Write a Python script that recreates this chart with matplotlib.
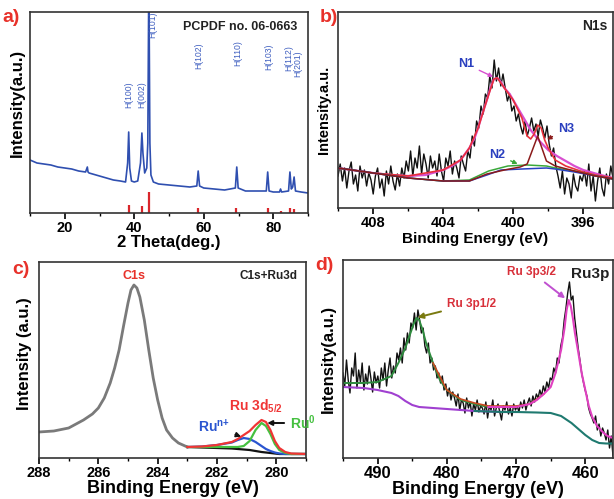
import matplotlib
matplotlib.use("Agg")
import matplotlib.pyplot as plt
import numpy as np
from matplotlib.ticker import MultipleLocator

plt.rcParams.update({
    "font.family": ["Liberation Sans", "DejaVu Sans"],
    "font.weight": "bold",
    "axes.labelweight": "bold",
    "axes.linewidth": 1.2,
    "axes.edgecolor": "#333333",
    "mathtext.fontset": "custom",
    "mathtext.bf": "Liberation Sans:bold",
    "mathtext.rm": "Liberation Sans",
})

# ---------------------------------------------------------------------------
# (a) XRD pattern
# ---------------------------------------------------------------------------
xrd_theta = [10, 12, 14, 16, 18, 20, 22, 24, 26, 26.5, 26.7, 27, 28, 30, 32, 34, 36,
             37.5, 38.1, 38.4, 38.7, 39.2, 40, 41, 41.8, 42.2, 42.5, 43, 43.6, 43.9,
             44.2, 44.5, 44.8, 45.5, 47, 50, 53, 56, 58.0, 58.4, 58.8, 60, 63, 66,
             69.1, 69.5, 69.9, 72, 75, 78.0, 78.4, 78.8, 80, 81.8, 82.1, 82.4, 84.4,
             84.8, 85.2, 85.6, 86.0, 86.4, 88, 90]
xrd_int = [53, 50, 49, 48, 46, 45, 44, 42, 41, 46, 41, 40, 39, 37, 35, 33, 32,
           31, 50, 81, 45, 32, 31, 32, 50, 80, 60, 40, 45, 70,
           240, 70, 38, 31, 29, 28, 27, 26, 27, 42, 27, 25, 24, 23,
           25, 46, 25, 22, 22, 22, 41, 22, 21, 21, 24, 21, 22,
           41, 24, 26, 36, 22, 21, 20]
ref_theta = [38.4, 42.1, 44.2, 58.4, 69.3, 78.4, 82.2, 84.8, 86.0]
ref_int = [8, 7, 21, 5, 5, 5, 2.5, 5, 4]
peak_labels = ["H(100)", "H(002)", "H(101)", "H(102)", "H(110)", "H(103)", "H(112)", "H(201)"]
peak_label_x = [38.3, 42.1, 45.2, 58.5, 69.8, 78.6, 84.5, 87.0]
peak_label_y = [118, 118, 188, 157, 160, 156, 155, 149]

# ---------------------------------------------------------------------------
# (b) N1s spectrum
# ---------------------------------------------------------------------------
n1s_raw = [30, 42, 25, 38, 18, 35, 44, 22, 31, 15, 40, 28, 36, 20, 33, 26,
           12, 30, 38, 18, 27, 10, 35, 22, 40, 25, 16, 32, 20, 38, 28, 45,
           35, 55, 30, 48, 38, 60, 32, 52, 42, 28, 50, 38,
           45, 30, 52, 35, 25, 48, 40, 55, 32, 45, 38, 28, 50, 42, 35, 55,
           48, 70, 60, 85, 78, 100, 92, 112,
           108, 130, 118, 146, 125, 138, 120, 132,
           118, 105, 112, 95, 100, 85, 92, 80,
           72, 85, 70, 78, 88, 75, 82, 70, 86, 78, 68, 80,
           62, 50, 58, 40,
           30, 18, 35, 12, 28, 22, 8, 32, 20, 15, 30, 25,
           35, 20, 42, 15, 30, 5, 25, 38, 18, 10, 32, 22, 40, 28]
n1s_e = np.linspace(410, 394.3, len(n1s_raw))

n1_e = [410, 409, 408, 407, 406, 405, 404, 403.5, 403, 402.5, 402.2, 402, 401.8, 401.5,
        401.3, 401.1, 400.9, 400.7, 400.5, 400.2, 400, 399.5, 399, 398.5, 398, 397.5,
        397, 396.5, 396, 395, 394.3]
n1_fit = [38, 35.5, 33, 31, 30, 31, 36, 40, 46, 58, 68, 78, 90, 106,
          118, 127, 128, 124, 118, 112, 106, 91, 76, 65, 56, 50,
          45, 40, 36, 31, 28]
tot_e = [410, 408, 406, 404, 403, 402.5, 402, 401.5, 401.1, 400.9, 400.5, 400, 399.5,
         399.2, 399.0, 398.8, 398.6, 398.4, 398.2, 398.0, 397.6, 397, 396, 395.3, 394.3]
tot_fit = [38, 33, 30, 36, 46, 58, 78, 106, 127, 128, 118, 106, 88,
           70, 67, 72, 81, 78, 66, 58, 46, 40, 34, 31, 28]
n3_e = [410, 408, 406, 404, 402.5, 401.5, 400.5, 399.6, 399.2, 398.9, 398.6, 398.3,
        398.1, 397.6, 396.5, 395.3, 394.3]
n3_fit = [38, 33, 28, 25, 25, 32, 36, 39, 42, 56, 70, 55, 45, 40, 35, 30, 27]
n2_e = [410, 408, 406, 404, 402.5, 401.4, 400.3, 399.2, 398.1, 397.6, 396.5, 395.3, 394.3]
n2_fit = [38, 33, 28, 25, 26, 35, 40, 41, 40, 38, 35, 30, 27]
bg_e = [410, 408, 406, 404, 402.5, 401.5, 400.7, 399.5, 398.1, 397.6, 396.5, 395.3, 394.3]
bg_fit = [38, 33, 28, 25, 25, 31, 36, 37, 38, 37, 34, 30, 27]

# ---------------------------------------------------------------------------
# (c) C1s + Ru3d
# ---------------------------------------------------------------------------
c1s_e = [288, 287.5, 287, 286.5, 286.2, 286, 285.8, 285.6, 285.45, 285.3, 285.15, 285.0,
         284.9, 284.8, 284.7, 284.6, 284.45, 284.3, 284.15, 284.0, 283.85, 283.7,
         283.5, 283.3, 283.0]
c1s_int = [26, 27, 30, 38, 44, 50, 60, 75, 90, 108, 132, 155,
           168, 173, 170, 161, 138, 108, 80, 58, 40, 28,
           20, 15, 11]
ru_e = [283, 282.5, 282, 281.5, 281.3, 281.1, 280.9, 280.7, 280.5, 280.35, 280.2,
        280.05, 279.9, 279.7, 279.5, 279]
ru_bg = [11, 10.5, 10, 9.5, 9, 8.5, 8, 7, 6, 5.5, 5, 4.5, 4, 4, 4, 4]
ru_np = [11, 11.5, 13, 15.5, 18, 20, 19, 16, 12, 9, 7, 5.5, 4.5, 4, 4, 4]
ru_0 = [11, 11, 11, 11, 11, 12, 17, 28, 35, 32, 24, 14, 8, 5, 4, 4]
ru_tot = [11, 11.5, 13, 16, 19, 23, 27, 33, 38, 36, 28, 17, 10, 6, 4.5, 4]

# ---------------------------------------------------------------------------
# (d) Ru3p spectrum
# ---------------------------------------------------------------------------
ru3p_raw = [85, 72, 98, 78, 65, 90, 82, 105, 70, 88, 76, 95, 68, 84, 74, 92, 80, 66, 86, 75,
            82, 70, 90, 78, 95, 72, 88, 100, 80, 92, 85, 105,
            98, 110, 95, 120, 108, 125, 115, 135,
            130, 145, 128, 148,
            138, 125, 130, 112,
            105, 115, 95, 100, 88, 92, 80, 85,
            75, 82, 68, 74, 62, 70, 58, 66,
            60, 52, 64, 48, 58, 55, 45, 60, 50, 56, 42, 54, 48, 58, 46, 52,
            50, 44, 56, 40, 52, 48, 58, 42, 50, 54, 46, 38, 52, 48, 56, 44, 50, 42, 54, 48,
            52, 46, 56, 50, 58, 48, 55, 60, 52, 62, 56, 64,
            60, 68, 62, 72, 66, 76, 70, 80,
            78, 90, 85, 100, 95, 112,
            120, 138, 150, 165,
            176, 158, 162, 140,
            125, 110, 98, 85, 76, 68,
            62, 50, 44, 40,
            35, 42, 28, 34, 22, 30, 25, 18,
            28, 10, 22, 2]
ru3p_e = np.linspace(495, 456, len(ru3p_raw))

p12_e = [495, 492, 490, 488, 487, 486, 485.3, 484.8, 484.4, 484.0, 483.5, 483, 482, 481,
         480, 478, 476, 474, 472, 470]
p12_fit = [75, 75, 76, 82, 95, 110, 124, 134, 140, 138, 128, 115, 95, 78,
           68, 58, 54, 51, 51, 51]
p32_e = [474, 470, 468, 467, 466, 465, 464.3, 463.5, 463, 462.7, 462.4, 462.1, 461.8,
         461.5, 461, 460.5, 460, 459.5, 459, 458.3, 457.5, 456.8, 456]
p32_fit = [51, 51, 54, 58, 64, 71, 85, 108, 130, 148, 158, 152, 140,
           125, 105, 84, 68, 52, 41, 32, 26, 22, 20]
tot3p_e = [482, 480, 478, 476, 474, 472, 470, 468, 466]
tot3p_fit = [95, 68, 59, 55, 52, 52, 52, 54, 64]
bg3p_e = [495, 492, 490, 488, 487, 486, 485, 484, 482, 480, 476, 472, 470]
bg3p_fit = [71, 70, 68, 65, 62, 57, 53, 51, 50, 49, 47, 46, 46]
tail3p_e = [476, 472, 470, 467, 465, 463.5, 462, 461, 460, 459, 458, 457, 456]
tail3p_fit = [47, 46, 46, 45.5, 45, 42, 35, 29, 23, 18, 15, 14.5, 14.5]


def style_axis(ax, major, minor, size=10.5):
    ax.xaxis.set_major_locator(MultipleLocator(major))
    ax.xaxis.set_minor_locator(MultipleLocator(minor))
    ax.tick_params(axis="x", which="major", direction="out", length=4, width=1.2,
                   labelsize=size, pad=2)
    ax.tick_params(axis="x", which="minor", direction="out", length=2.5, width=1.0)
    ax.set_yticks([])
    for lbl in ax.get_xticklabels():
        lbl.set_fontweight("bold")


def panel_label(fig, x, y, s):
    fig.text(x / 614, 1 - y / 499, s, color="#e8312a", fontsize=14,
             fontweight="bold", ha="left", va="center")


fig = plt.figure(figsize=(6.14, 4.99), dpi=100)


def add_ax(left, right, top, bottom):
    return fig.add_axes([left / 614, 1 - bottom / 499, (right - left) / 614, (bottom - top) / 499])


# ---- (a)
ax = add_ax(30, 308, 12, 213)
ax.plot(xrd_theta, xrd_int, color="#2f4fb0", lw=1.2)
ax.vlines(ref_theta, 0, ref_int, color="#d9262b", lw=1.6)
for s, xv, yv in zip(peak_labels, peak_label_x, peak_label_y):
    ax.text(xv, yv, s, rotation=90, color="#3f5fc0", fontsize=6.2,
            fontweight="normal", ha="center", va="center")
ax.text(0.55, 0.925, "PCPDF no. 06-0663", transform=ax.transAxes, fontsize=9,
        ha="left", va="center", color="#222222")
ax.set_xlim(10, 90)
ax.set_ylim(0, 201)
style_axis(ax, 20, 10)
ax.set_xlabel("2 Theta(deg.)", fontsize=12, labelpad=0)
ax.set_ylabel("Intensity(a.u.)", fontsize=12)
ax.yaxis.set_label_coords(-0.02, 0.55)
panel_label(fig, 2, 18, "a)")

# ---- (b)
ax = add_ax(338, 613, 12, 208)
ax.plot(n1s_e, n1s_raw, color="#111111", lw=1.0)
ax.plot(n1_e, n1_fit, color="#d84fd0", lw=1.6)
ax.plot(tot_e, tot_fit, color="#e8303a", lw=1.2)
ax.plot(n2_e, n2_fit, color="#3aa83a", lw=1.1)
ax.plot(bg_e, bg_fit, color="#2840c0", lw=1.1)
ax.plot(n3_e, n3_fit, color="#8b1a1a", lw=1.1)
ax.annotate("N1", xy=(401.0, 128), xytext=(402.7, 142), color="#2a3fbf", fontsize=9,
            ha="center", va="center",
            arrowprops=dict(arrowstyle="-|>", color="#d84fd0", lw=1.0, mutation_scale=6))
ax.annotate("N2", xy=(399.6, 41), xytext=(400.9, 51), color="#2a3fbf", fontsize=9,
            ha="center", va="center",
            arrowprops=dict(arrowstyle="-|>", color="#3aa83a", lw=1.0, mutation_scale=6))
ax.annotate("N3", xy=(398.2, 65), xytext=(397.0, 77), color="#2a3fbf", fontsize=9,
            ha="center", va="center",
            arrowprops=dict(arrowstyle="-|>", color="#8b1a1a", lw=1.0, mutation_scale=6))
ax.text(0.98, 0.93, "N1s", transform=ax.transAxes, fontsize=10, ha="right",
        va="center", color="#222222")
ax.set_xlim(410, 394.3)
ax.set_ylim(-2, 194)
style_axis(ax, 4, 2)
ax.set_xlabel("Binding Energy (eV)", fontsize=11, labelpad=1)
ax.set_ylabel("Intensity.a.u.", fontsize=10.5, labelpad=5)
panel_label(fig, 320, 17, "b)")

# ---- (c)
ax = add_ax(39, 306, 262, 458)
ax.plot(c1s_e, c1s_int, color="#7a7a7a", lw=2.0)
ax.plot(ru_e, ru_bg, color="#111111", lw=1.6)
ax.plot(ru_e, ru_np, color="#2a55d0", lw=1.6)
ax.plot(ru_e, ru_0, color="#45c040", lw=1.6)
ax.plot(ru_e, ru_tot, color="#f03535", lw=1.6)
ax.text(284.8, 182, "C1s", color="#e8312a", fontsize=9, ha="center", va="center")
ax.text(0.97, 0.93, "C1s+Ru3d", transform=ax.transAxes, fontsize=8.5, ha="right",
        va="center", color="#222222")
ax.annotate("Ru$^{\\mathbf{n{+}}}$", xy=(281.1, 20.5), xytext=(282.1, 31), color="#2a55d0",
            fontsize=10, ha="center", va="center",
            arrowprops=dict(arrowstyle="-|>", color="#111111", lw=1.2, mutation_scale=7))
ax.text(280.7, 52, "Ru 3d$_{\\mathbf{5/2}}$", color="#f03535", fontsize=10,
        ha="center", va="center")
ax.annotate("Ru$^{\\mathbf{0}}$", xy=(280.4, 35), xytext=(279.55, 35), color="#45c040",
            fontsize=10, ha="left", va="center",
            arrowprops=dict(arrowstyle="-|>", color="#111111", lw=1.4, mutation_scale=7))
ax.set_xlim(288, 279)
ax.set_ylim(0, 196)
style_axis(ax, 2, 1)
ax.set_xlabel("Binding Energy (eV)", fontsize=13, labelpad=0)
ax.set_ylabel("Intensity (a.u.)", fontsize=12)
ax.yaxis.set_label_coords(-0.025, 0.535)
panel_label(fig, 12, 270, "c)")

# ---- (d)
ax = add_ax(343, 613, 260, 458)
ax.plot(ru3p_e, ru3p_raw, color="#111111", lw=1.0)
ax.plot(bg3p_e, bg3p_fit, color="#a040d0", lw=1.5)
ax.plot(tail3p_e, tail3p_fit, color="#1f7a70", lw=1.5)
ax.plot(p12_e, p12_fit, color="#2e8b3e", lw=1.4)
ax.plot(tot3p_e, tot3p_fit, color="#c84a20", lw=1.2)
ax.plot(p32_e, p32_fit, color="#e040c0", lw=1.5)
ax.annotate("Ru 3p1/2", xy=(484.6, 140), xytext=(476.5, 154), color="#d8303a", fontsize=8.5,
            ha="center", va="center",
            arrowprops=dict(arrowstyle="-|>", color="#7a7a10", lw=1.4, mutation_scale=8))
ax.annotate("Ru 3p3/2", xy=(462.6, 158), xytext=(467.8, 186), color="#d8303a", fontsize=8.5,
            ha="center", va="center",
            arrowprops=dict(arrowstyle="-|>", color="#c050d0", lw=1.4, mutation_scale=8))
ax.text(0.985, 0.93, "Ru3p", transform=ax.transAxes, fontsize=11, ha="right",
        va="center", color="#222222")
ax.set_xlim(495, 456)
ax.set_ylim(0, 198)
style_axis(ax, 10, 5, size=12)
ax.set_xlabel("Binding Energy (eV)", fontsize=13)
ax.xaxis.set_label_coords(0.5, -0.115)
ax.set_ylabel("Intensity(a.u.)", fontsize=12, labelpad=5)
panel_label(fig, 315, 265, "d)")

fig.savefig("out.png", dpi=100)
